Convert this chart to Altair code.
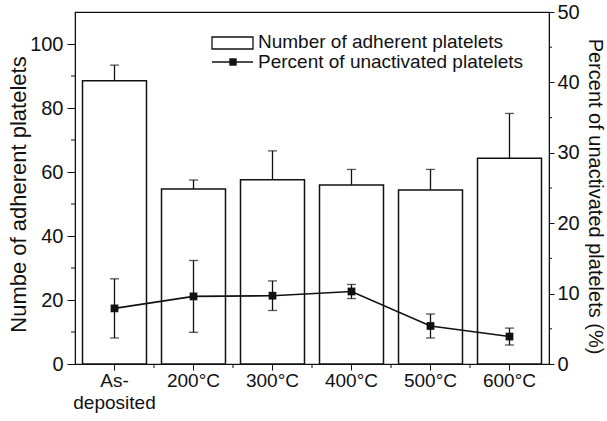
import altair as alt
import pandas as pd

# Annealing conditions and measured values
categories = ["As-deposited", "200°C", "300°C", "400°C", "500°C", "600°C"]
adherent = [88.5, 54.7, 57.6, 55.9, 54.4, 64.3]          # number of adherent platelets
adherent_err = [4.9, 2.8, 9.0, 4.9, 6.4, 14.0]
unactivated = [7.9, 9.6, 9.7, 10.3, 5.4, 3.9]           # percent of unactivated platelets
unactivated_err = [4.2, 5.1, 2.1, 1.0, 1.7, 1.2]

left_major = [0, 20, 40, 60, 80, 100]
left_minor = [10, 30, 50, 70, 90]
right_major = [0, 10, 20, 30, 40, 50]
right_minor = [5, 15, 25, 35, 45]
legend_labels = ["Number of adherent platelets", "Percent of unactivated platelets"]

FONT = "Liberation Sans"
INK = "#111111"

df = pd.DataFrame({
    "cond": categories,
    "count": adherent,
    "count_err": adherent_err,
    "pct": unactivated,
    "pct_err": unactivated_err,
})
df["count_hi"] = df["count"] + df["count_err"]
df["pct_lo"] = df["pct"] - df["pct_err"]
df["pct_hi"] = df["pct"] + df["pct_err"]

W, H = 474, 352

x_scale = alt.Scale(paddingInner=0.19, paddingOuter=0.095)
x_axis = alt.Axis(
    title=None,
    labelAngle=0,
    labelExpr="datum.value == 'As-deposited' ? ['As-', 'deposited'] : datum.value",
    labelFontSize=19,
    labelFont=FONT,
    labelColor=INK,
    labelLineHeight=22,
    labelPadding=1,
    tickSize=6,
    tickColor=INK,
    domainColor=INK,
    grid=False,
)
x_enc = alt.X("cond:N", sort=categories, scale=x_scale, axis=x_axis)

left_scale = alt.Scale(domain=[0, 110], nice=False, zero=True)
left_axis = alt.Axis(
    values=left_major,
    title="Numbe of adherent platelets",
    titleFont=FONT,
    titleFontSize=22,
    titleFontWeight="normal",
    titleColor=INK,
    titleX=-57,
    titleY=H / 2 + 6,
    titleAlign="center",
    titleBaseline="middle",
    titleAngle=-90,
    labelFont=FONT,
    labelFontSize=20,
    labelColor=INK,
    labelPadding=4,
    tickSize=8,
    tickColor=INK,
    domainColor=INK,
    grid=False,
)

right_scale = alt.Scale(domain=[0, 50], nice=False, zero=True)
right_axis = alt.Axis(
    orient="right",
    values=right_major,
    title="Percent of unactivated platelets (%)",
    titleFont=FONT,
    titleFontSize=20,
    titleFontWeight="normal",
    titleColor=INK,
    titleX=45,
    titleY=H / 2 + 8,
    titleAlign="center",
    titleBaseline="middle",
    titleAngle=90,
    labelFont=FONT,
    labelFontSize=20,
    labelColor=INK,
    labelPadding=3,
    tickSize=5,
    tickColor=INK,
    domainColor=INK,
    grid=False,
)

base = alt.Chart(df)

# Bars for the number of adherent platelets (left axis)
bars = base.mark_bar(fill="white", stroke=INK, strokeWidth=1.5).encode(
    x=x_enc,
    y=alt.Y("count:Q", scale=left_scale, axis=left_axis),
)
bar_err = base.mark_rule(color=INK, strokeWidth=1.3).encode(
    x=x_enc,
    y=alt.Y("count:Q", scale=left_scale, axis=left_axis),
    y2="count_hi:Q",
)
bar_cap = base.mark_tick(color=INK, size=9, thickness=1.3).encode(
    x=x_enc,
    y=alt.Y("count_hi:Q", scale=left_scale, axis=left_axis),
)
left_minor_ticks = alt.Chart(pd.DataFrame({"v": left_minor})).mark_rule(
    color=INK, strokeWidth=1
).encode(
    y=alt.Y("v:Q", scale=left_scale, axis=left_axis),
    x=alt.value(-4),
    x2=alt.value(0),
)

left_group = alt.layer(bars, bar_err, bar_cap, left_minor_ticks)

# Line with square markers for the percent of unactivated platelets (right axis)
line = base.mark_line(color=INK, strokeWidth=1.6).encode(
    x=x_enc,
    y=alt.Y("pct:Q", scale=right_scale, axis=right_axis),
)
line_err = base.mark_rule(color=INK, strokeWidth=1.3).encode(
    x=x_enc,
    y=alt.Y("pct_lo:Q", scale=right_scale, axis=right_axis),
    y2="pct_hi:Q",
)
cap_lo = base.mark_tick(color=INK, size=9, thickness=1.3).encode(
    x=x_enc,
    y=alt.Y("pct_lo:Q", scale=right_scale, axis=right_axis),
)
cap_hi = base.mark_tick(color=INK, size=9, thickness=1.3).encode(
    x=x_enc,
    y=alt.Y("pct_hi:Q", scale=right_scale, axis=right_axis),
)
points = base.mark_point(shape="square", filled=True, size=60, color=INK, opacity=1).encode(
    x=x_enc,
    y=alt.Y("pct:Q", scale=right_scale, axis=right_axis),
)
right_minor_ticks = alt.Chart(pd.DataFrame({"v": right_minor})).mark_rule(
    color=INK, strokeWidth=1
).encode(
    y=alt.Y("v:Q", scale=right_scale, axis=right_axis),
    x=alt.value(W),
    x2=alt.value(W + 3),
)
# Short ticks on the category axis between neighbouring conditions
boundary_ticks = alt.Chart(pd.DataFrame({"cond": categories[1:]})).mark_rule(
    color=INK, strokeWidth=1, xOffset=-7.5
).encode(
    x=alt.X("cond:N", sort=categories, bandPosition=0, scale=x_scale, axis=x_axis),
    y=alt.value(H),
    y2=alt.value(H + 4),
)

right_group = alt.layer(line, line_err, cap_lo, cap_hi, points, right_minor_ticks, boundary_ticks)

# Legend
one = pd.DataFrame({"k": [0]})
leg_box = alt.Chart(one).mark_rect(
    fill="white", stroke=INK, strokeWidth=1.3
).encode(x=alt.value(137), x2=alt.value(178), y=alt.value(25), y2=alt.value(37))
leg_line = alt.Chart(one).mark_rule(
    color=INK, strokeWidth=1.6
).encode(x=alt.value(137), x2=alt.value(178), y=alt.value(50))
leg_point = alt.Chart(one).mark_point(
    shape="square", filled=True, size=55, color=INK, opacity=1
).encode(x=alt.value(158), y=alt.value(50))
leg_text1 = alt.Chart(one).mark_text(
    align="left", baseline="middle", font=FONT, fontSize=19, color=INK, text=legend_labels[0]
).encode(x=alt.value(183), y=alt.value(30))
leg_text2 = alt.Chart(one).mark_text(
    align="left", baseline="middle", font=FONT, fontSize=19, color=INK, text=legend_labels[1]
).encode(x=alt.value(183), y=alt.value(50))

chart = (
    alt.layer(left_group, right_group, leg_box, leg_line, leg_point, leg_text1, leg_text2)
    .resolve_scale(y="independent")
    .properties(
        width=W,
        height=H,
        autosize=alt.AutoSizeParams(type="none"),
        padding={"left": 75, "top": 12, "right": 58, "bottom": 57},
        background="white",
    )
    .configure_view(stroke=INK, strokeWidth=1.2)
)

chart.save("out.html", embed_options={"renderer": "svg", "actions": False})
